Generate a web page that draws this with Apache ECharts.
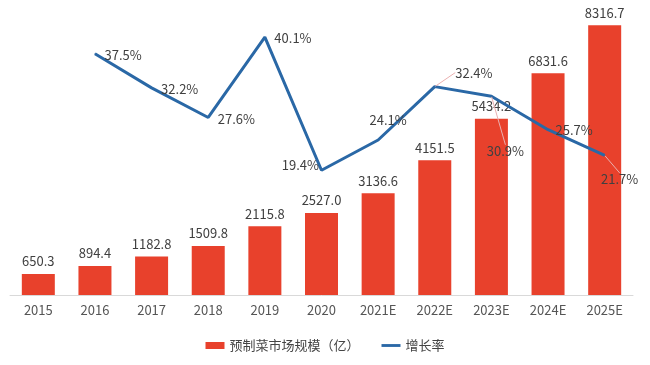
<!DOCTYPE html>
<html>
<head>
<meta charset="utf-8">
<script src="https://cdn.jsdelivr.net/npm/echarts@6/dist/echarts.min.js"></script>
<style>html,body{margin:0;padding:0;background:#fff}#c{width:650px;height:365px}</style>
</head>
<body>
<div id="c"></div>
<script>
var categories = ['2015','2016','2017','2018','2019','2020','2021E','2022E','2023E','2024E','2025E'];
var marketSize = [650.3, 894.4, 1182.8, 1509.8, 2115.8, 2527.0, 3136.6, 4151.5, 5434.2, 6831.6, 8316.7];
var growthRate = [null, 37.5, 32.2, 27.6, 40.1, 19.4, 24.1, 32.4, 30.9, 25.7, 21.7];
var barName = '预制菜市场规模（亿）';
var lineName = '增长率';

// label placement for the growth-rate labels (style only, not data)
var rateLabelPlace = [
  null,
  {position:'right', move:[4,1]},
  {position:'right', move:[4,1]},
  {position:'right', move:[4,2]},
  {position:'right', move:[4,1]},
  {position:'left', move:[3,-5]},
  {position:'top', move:[10,-8]},
  {position:'right', move:[15,-14], guide:true},
  {position:'bottom', move:[14,43], guide:true},
  {position:'right', move:[2,0]},
  {position:'bottom', move:[15,12], guide:true}
];

var font = '"Noto Sans CJK SC", "Noto Sans", sans-serif';
var lineData = growthRate.map(function(v, i){
  if (v === null) return '-';
  var p = rateLabelPlace[i];
  var item = {value: v, label: {position: p.position}};
  if (p.guide) item.labelLine = {show: true, lineStyle: {color: '#eab0b0', width: 1}};
  return item;
});

var chart = echarts.init(document.getElementById('c'));
chart.setOption({
  animation: false,
  textStyle: {fontFamily: font},
  grid: {left: 10, right: 17, top: 3, bottom: 70},
  legend: {
    bottom: 8, left: 'center', itemGap: 22, itemWidth: 19, itemHeight: 7,
    textStyle: {color: '#444', fontSize: 13, fontFamily: font},
    data: [
      {name: barName, icon: 'rect'},
      {name: lineName, icon: 'path://M0,0H20V3H0Z', itemStyle: {color: '#2a68a6'}}
    ]
  },
  xAxis: {
    type: 'category', data: categories,
    axisLine: {lineStyle: {color: '#d9d9d9', width: 1}},
    axisTick: {show: false},
    axisLabel: {color: '#555', fontSize: 13, margin: 9, fontFamily: font}
  },
  yAxis: [
    {type: 'value', min: 0, max: 9000, show: false, splitLine: {show: false}},
    {type: 'value', min: 0, max: 45.4, show: false, splitLine: {show: false}}
  ],
  series: [
    {
      name: barName, type: 'bar', data: marketSize, barWidth: 33,
      itemStyle: {color: '#e8412c'},
      label: {show: true, position: 'top', distance: 6, color: '#404040', fontSize: 13, fontFamily: font,
        formatter: function(p){ return p.value.toFixed(1); }}
    },
    {
      name: lineName, type: 'line', yAxisIndex: 1, data: lineData,
      symbol: 'circle', symbolSize: 1, showSymbol: true,
      itemStyle: {color: '#2a68a6', borderWidth: 0},
      lineStyle: {color: '#2a68a6', width: 3},
      label: {show: true, color: '#404040', fontSize: 13, fontFamily: font,
        formatter: function(p){ return p.value.toFixed(1) + '%'; }},
      labelLayout: function(params){
        var p = rateLabelPlace[params.dataIndex];
        if (p && p.move) return {dx: p.move[0], dy: p.move[1]};
        return {};
      },
      z: 5
    }
  ]
});
</script>
</body>
</html>
